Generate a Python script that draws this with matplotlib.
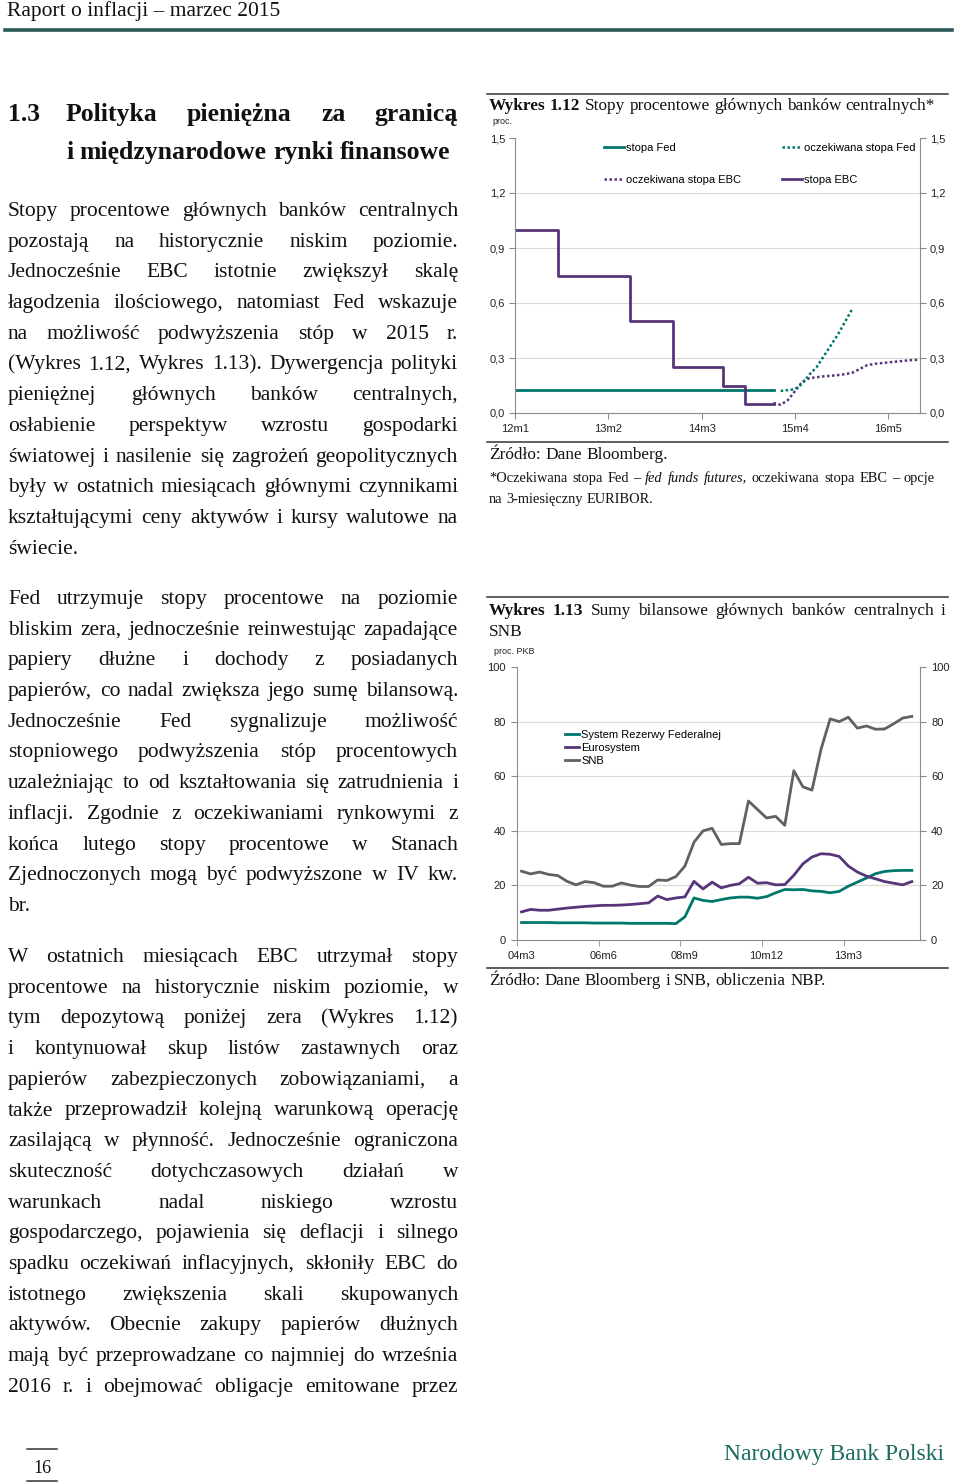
import matplotlib.pyplot as plt
from matplotlib.lines import Line2D

plt.rcParams['font.family'] = ['Liberation Serif', 'DejaVu Serif']
SANS = 'Liberation Sans'

# ---- data: Wykres 1.12 (monthly index, 0 = 12m1) ----
x_rates = [0, 1, 2, 3, 4, 5, 6, 7, 8, 9, 10, 11, 12, 13, 14, 15, 16, 17, 18,
           19, 20, 21, 22, 23, 24, 25, 26, 27, 28, 29, 30, 31, 32, 33, 34, 35, 36]
fed_rate = [0.125, 0.125, 0.125, 0.125, 0.125, 0.125, 0.125, 0.125, 0.125, 0.125,
            0.125, 0.125, 0.125, 0.125, 0.125, 0.125, 0.125, 0.125, 0.125, 0.125,
            0.125, 0.125, 0.125, 0.125, 0.125, 0.125, 0.125, 0.125, 0.125, 0.125,
            0.125, 0.125, 0.125, 0.125, 0.125, 0.125, 0.125]
ecb_rate = [1.0, 1.0, 1.0, 1.0, 1.0, 1.0, 0.75, 0.75, 0.75, 0.75, 0.75, 0.75, 0.75,
            0.75, 0.75, 0.75, 0.5, 0.5, 0.5, 0.5, 0.5, 0.5, 0.25, 0.25, 0.25, 0.25,
            0.25, 0.25, 0.25, 0.15, 0.15, 0.15, 0.05, 0.05, 0.05, 0.05, 0.05]
x_fed_exp = [37, 38, 39, 40, 41, 42, 43, 44, 45, 46, 47]
fed_exp = [0.12, 0.125, 0.13, 0.16, 0.21, 0.25, 0.31, 0.37, 0.43, 0.50, 0.57]
x_ecb_exp = [36, 37, 38, 39, 40, 41, 42, 43, 44, 45, 46, 47, 48, 49, 50, 51, 52,
             53, 54, 55, 56]
ecb_exp = [0.055, 0.045, 0.07, 0.12, 0.17, 0.19, 0.195, 0.20, 0.203, 0.207, 0.212,
           0.22, 0.24, 0.26, 0.268, 0.272, 0.276, 0.28, 0.284, 0.288, 0.29]
rate_ticks = [0, 13, 26, 39, 52]
rate_ticklabels = ['12m1', '13m2', '14m3', '15m4', '16m5']
rate_yticks = [0.0, 0.3, 0.6, 0.9, 1.2, 1.5]
rate_yticklabels = ['0,0', '0,3', '0,6', '0,9', '1,2', '1,5']

# ---- data: Wykres 1.13 (quarterly index, 0 = 04m3) ----
x_bs = list(range(44))
fed_bs = [6.4, 6.4, 6.4, 6.4, 6.3, 6.3, 6.3, 6.3, 6.2, 6.2, 6.2, 6.2, 6.1, 6.1,
          6.1, 6.1, 6.1, 6.0, 8.5, 15.4, 14.5, 14.1, 14.8, 15.4, 15.7, 15.7, 15.3,
          15.9, 17.3, 18.5, 18.4, 18.5, 18.0, 17.8, 17.3, 17.8, 19.7, 21.2, 22.7,
          24.3, 25.1, 25.4, 25.5, 25.5]
ecb_bs = [10.3, 11.2, 10.9, 10.9, 11.3, 11.7, 12.0, 12.3, 12.5, 12.7, 12.7, 12.8,
          13.0, 13.3, 13.6, 16.1, 14.8, 15.4, 15.8, 21.5, 18.7, 21.2, 19.1, 20.0,
          20.6, 23.0, 20.8, 21.0, 20.2, 20.3, 23.7, 27.9, 30.4, 31.6, 31.4, 30.6,
          27.1, 24.9, 23.4, 22.4, 21.4, 20.8, 20.2, 21.4]
snb_bs = [25.2, 24.2, 24.9, 24.0, 23.6, 21.5, 20.2, 21.4, 21.0, 19.7, 19.7, 20.9,
          20.1, 19.6, 19.6, 22.0, 21.8, 23.2, 27.1, 35.8, 40.0, 40.9, 35.0, 35.3,
          35.3, 50.9, 47.8, 44.7, 45.3, 42.0, 62.0, 56.1, 54.9, 69.9, 81.0, 80.0,
          81.6, 77.6, 78.4, 77.2, 77.3, 79.2, 81.3, 81.9]
bs_ticks = [0, 9, 18, 27, 36]
bs_ticklabels = ['04m3', '06m6', '08m9', '10m12', '13m3']
bs_yticks = [0, 20, 40, 60, 80, 100]
bs_yticklabels = ['0', '20', '40', '60', '80', '100']

TEAL = '#00776b'
PURPLE = '#563578'
GRAY = '#616161'
AXC = '#8c8c8c'
GRID = '#d9d9d9'
INK = '#111111'

W, H = 960, 1484
fig = plt.figure(figsize=(W / 100, H / 100), dpi=100)
renderer = fig.canvas.get_renderer()


def fx(x):
    return x / W


def fy(y):
    return 1 - y / H


def word_width(word, **kw):
    t = fig.text(0, 0, word, **kw)
    w = t.get_window_extent(renderer).width
    t.remove()
    return w


def as_items(words):
    return [(w, {}) if isinstance(w, str) else w for w in words]


def natural_width(words, size, **kw):
    items = as_items(words)
    space = word_width('a a', size=size, **kw) - word_width('aa', size=size, **kw)
    return (sum(word_width(w, size=size, **{**kw, **st}) for w, st in items)
            + space * (len(items) - 1))


def fit_size(words, width, **kw):
    # font size at which the words, normally spaced, take the given width
    return 10 * width / natural_width(words, 10, **kw)


def put_words(words, x0, y, x1=None, size=15.5, **kw):
    items = as_items(words)
    widths = [word_width(w, size=size, **{**kw, **st}) for w, st in items]
    if x1 is not None and len(items) > 1:
        gap = (x1 - x0 - sum(widths)) / (len(items) - 1)
    else:
        gap = word_width('a a', size=size, **kw) - word_width('aa', size=size, **kw)
    x = x0
    for (w, st), wd in zip(items, widths):
        fig.text(fx(x), fy(y), w, size=size, va='baseline', ha='left',
                 color=INK, **{**kw, **st})
        x += wd + gap


def paragraph(lines, y0, last_justified=False, x0=8, x1=458, step=30.7):
    for i, line in enumerate(lines):
        last = i == len(lines) - 1 and not last_justified
        put_words(line.split(), x0, y0 + i * step, None if last else x1)


# ---- page header / footer ----
fig.text(fx(7), fy(16), 'Raport o inflacji – marzec 2015', size=15.5, va='baseline',
         color=INK)
fig.add_artist(Line2D([fx(5), fx(952)], [fy(30), fy(30)], color='#2a5957', lw=2.6))
fig.add_artist(Line2D([fx(27), fx(57)], [fy(1449), fy(1449)], color='#333333', lw=1.1))
fig.add_artist(Line2D([fx(27), fx(57)], [fy(1481), fy(1481)], color='#333333', lw=1.1))
fig.text(fx(42), fy(1473), '16', size=13, ha='center', va='baseline', color=INK)
fig.text(fx(944), fy(1460), 'Narodowy Bank Polski', size=17, ha='right',
         va='baseline', color='#1a6b60')

# ---- heading ----
head2 = 'i międzynarodowe rynki finansowe'.split()
head_size = fit_size(head2, 452 - 66, weight='bold')
fig.text(fx(8), fy(121), '1.3', size=head_size, weight='bold', va='baseline',
         color=INK)
put_words(['Polityka', 'pieniężna', 'za', 'granicą'], 66, 121, 458, size=head_size,
          weight='bold')
put_words(head2, 66, 159, size=head_size, weight='bold')

# ---- body text ----
para1 = [
    "Stopy procentowe głównych banków centralnych",
    "pozostają na historycznie niskim poziomie.",
    "Jednocześnie EBC istotnie zwiększył skalę",
    "łagodzenia ilościowego, natomiast Fed wskazuje",
    "na możliwość podwyższenia stóp w 2015 r.",
    "(Wykres 1.12, Wykres 1.13). Dywergencja polityki",
    "pieniężnej głównych banków centralnych,",
    "osłabienie perspektyw wzrostu gospodarki",
    "światowej i nasilenie się zagrożeń geopolitycznych",
    "były w ostatnich miesiącach głównymi czynnikami",
    "kształtującymi ceny aktywów i kursy walutowe na",
    "świecie.",
]
para2 = [
    "Fed utrzymuje stopy procentowe na poziomie",
    "bliskim zera, jednocześnie reinwestując zapadające",
    "papiery dłużne i dochody z posiadanych",
    "papierów, co nadal zwiększa jego sumę bilansową.",
    "Jednocześnie Fed sygnalizuje możliwość",
    "stopniowego podwyższenia stóp procentowych",
    "uzależniając to od kształtowania się zatrudnienia i",
    "inflacji. Zgodnie z oczekiwaniami rynkowymi z",
    "końca lutego stopy procentowe w Stanach",
    "Zjednoczonych mogą być podwyższone w IV kw.",
    "br.",
]
para3 = [
    "W ostatnich miesiącach EBC utrzymał stopy",
    "procentowe na historycznie niskim poziomie, w",
    "tym depozytową poniżej zera (Wykres 1.12)",
    "i kontynuował skup listów zastawnych oraz",
    "papierów zabezpieczonych zobowiązaniami, a",
    "także przeprowadził kolejną warunkową operację",
    "zasilającą w płynność. Jednocześnie ograniczona",
    "skuteczność dotychczasowych działań w",
    "warunkach nadal niskiego wzrostu",
    "gospodarczego, pojawienia się deflacji i silnego",
    "spadku oczekiwań inflacyjnych, skłoniły EBC do",
    "istotnego zwiększenia skali skupowanych",
    "aktywów. Obecnie zakupy papierów dłużnych",
    "mają być przeprowadzane co najmniej do września",
    "2016 r. i obejmować obligacje emitowane przez",
]
paragraph(para1, 216)
paragraph(para2, 604)
paragraph(para3, 962, last_justified=True)

# ---- Wykres 1.12 ----
title1 = [('Wykres', {'weight': 'bold'}), ('1.12', {'weight': 'bold'}), 'Stopy',
          'procentowe', 'głównych', 'banków', 'centralnych*']
title_size = fit_size(title1, 935 - 489)
fig.add_artist(Line2D([fx(487), fx(948)], [fy(94), fy(94)], color='#333333', lw=1.1))
put_words(title1, 489, 110, size=title_size)
fig.text(fx(492), fy(122), 'proc.', size=6.5, family=SANS, va='center', color='#222222')

ax1 = fig.add_axes([fx(515), fy(413), (920 - 515) / W, (413 - 138) / H])
ax1.plot(x_rates, fed_rate, color=TEAL, lw=2.0, label='stopa Fed')
ax1.plot(x_ecb_exp, ecb_exp, color=PURPLE, lw=1.8, ls=(0, (1, 1)),
         label='oczekiwana stopa EBC')
ax1.plot(x_fed_exp, fed_exp, color=TEAL, lw=1.8, ls=(0, (1, 1)),
         label='oczekiwana stopa Fed')
ax1.plot(x_rates, ecb_rate, color=PURPLE, lw=2.0, drawstyle='steps-post',
         label='stopa EBC')
ax1.set_xlim(0, 56.4)
ax1.set_ylim(0, 1.5)
for v in rate_yticks[1:-1]:
    ax1.axhline(v, color=GRID, lw=0.8, zorder=0)
ax1.set_yticks(rate_yticks)
ax1.set_yticklabels(rate_yticklabels, fontfamily=SANS, fontsize=8)
ax1.set_xticks(rate_ticks)
ax1.set_xticklabels(rate_ticklabels, fontfamily=SANS, fontsize=8)
ax1.tick_params(axis='y', left=True, right=True, labelleft=True, labelright=True,
                length=4, color=AXC, pad=3, labelcolor='#222222')
ax1.tick_params(axis='x', length=4, color=AXC, pad=4, labelcolor='#222222')
ax1.spines['top'].set_visible(False)
for s in ['left', 'right', 'bottom']:
    ax1.spines[s].set_color(AXC)
    ax1.spines[s].set_linewidth(0.8)
ax1.legend(ncol=2, loc='upper left', bbox_to_anchor=(fx(604), fy(143)),
           bbox_transform=fig.transFigure, frameon=False, borderpad=0,
           borderaxespad=0, handlelength=1.8, handletextpad=0.15,
           labelspacing=2.0, columnspacing=3.7,
           prop={'family': SANS, 'size': 8})

fig.add_artist(Line2D([fx(487), fx(948)], [fy(441.5), fy(441.5)], color='#333333',
                      lw=1.1))
src1 = 'Źródło: Dane Bloomberg.'.split()
put_words(src1, 489, 459, size=fit_size(src1, 667 - 489))
note1 = ['*Oczekiwana', 'stopa', 'Fed', '–', ('fed', {'style': 'italic'}),
         ('funds', {'style': 'italic'}), ('futures,', {'style': 'italic'}),
         'oczekiwana', 'stopa', 'EBC', '–', 'opcje']
note_size = fit_size(note1, 935 - 489) * 0.97
put_words(note1, 489, 482, 935, size=note_size)
put_words('na 3-miesięczny EURIBOR.'.split(), 489, 503, size=note_size)

# ---- Wykres 1.13 ----
fig.add_artist(Line2D([fx(487), fx(948)], [fy(597), fy(597)], color='#333333', lw=1.1))
put_words([('Wykres', {'weight': 'bold'}), ('1.13', {'weight': 'bold'}), 'Sumy',
           'bilansowe', 'głównych', 'banków', 'centralnych', 'i'], 489, 615, 946,
          size=title_size)
put_words(['SNB'], 489, 636, size=title_size)
fig.text(fx(494), fy(652), 'proc. PKB', size=6.5, family=SANS, va='center',
         color='#222222')

ax2 = fig.add_axes([fx(517), fy(940), (920 - 517) / W, (940 - 667) / H])
ax2.plot(x_bs, fed_bs, color=TEAL, lw=2.0, label='System Rezerwy Federalnej')
ax2.plot(x_bs, ecb_bs, color=PURPLE, lw=2.0, label='Eurosystem')
ax2.plot(x_bs, snb_bs, color=GRAY, lw=2.0, label='SNB')
ax2.set_xlim(-0.5, 43.9)
ax2.set_ylim(0, 100)
for v in bs_yticks[1:-1]:
    ax2.axhline(v, color=GRID, lw=0.8, zorder=0)
ax2.set_yticks(bs_yticks)
ax2.set_yticklabels(bs_yticklabels, fontfamily=SANS, fontsize=8)
ax2.set_xticks(bs_ticks)
ax2.set_xticklabels(bs_ticklabels, fontfamily=SANS, fontsize=8)
ax2.set_xticks([t - 0.5 for t in bs_ticks], minor=True)
ax2.tick_params(axis='x', which='major', length=0, pad=8, labelcolor='#222222')
ax2.tick_params(axis='x', which='minor', length=4, color=AXC)
ax2.tick_params(axis='y', left=True, right=True, labelleft=True, labelright=True,
                length=4, color=AXC, pad=4, labelcolor='#222222')
ax2.spines['top'].set_visible(False)
for s in ['left', 'right', 'bottom']:
    ax2.spines[s].set_color(AXC)
    ax2.spines[s].set_linewidth(0.8)
ax2.legend(loc='upper left', bbox_to_anchor=(fx(565), fy(730)),
           bbox_transform=fig.transFigure, frameon=False, borderpad=0,
           borderaxespad=0, handlelength=1.3, handletextpad=0.15, labelspacing=0.28,
           prop={'family': SANS, 'size': 8})

fig.add_artist(Line2D([fx(487), fx(948)], [fy(968), fy(968)], color='#333333',
                      lw=1.1))
src2 = 'Źródło: Dane Bloomberg i SNB, obliczenia NBP.'.split()
put_words(src2, 489, 985, size=fit_size(src2, 826 - 489))

fig.savefig('out.png', dpi=100)
